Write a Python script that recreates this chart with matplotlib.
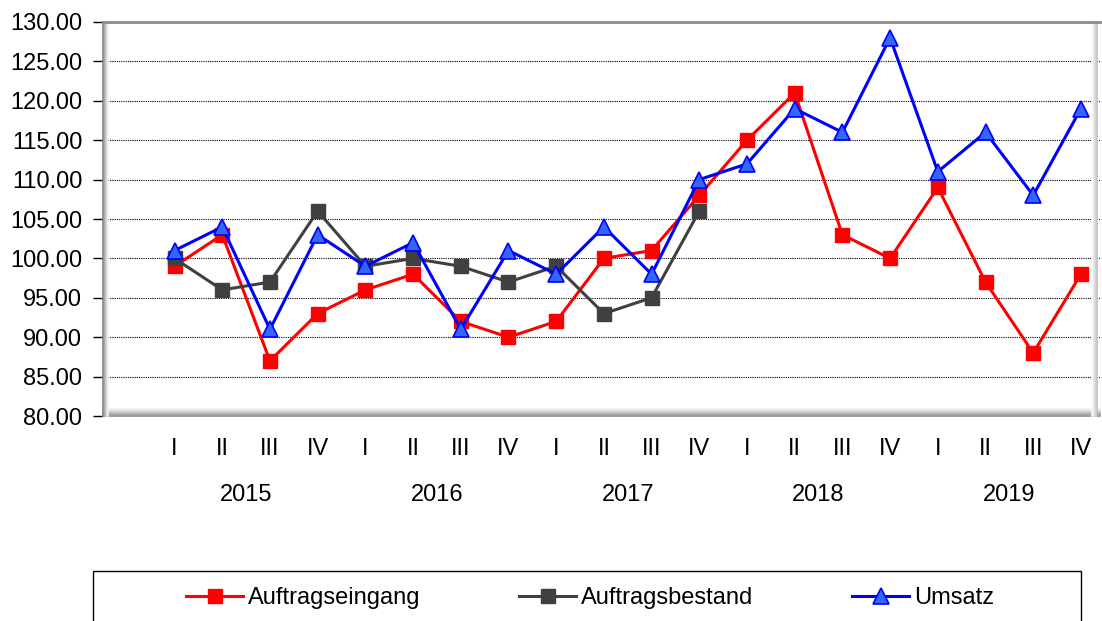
import numpy as np
import matplotlib.pyplot as plt
from matplotlib.patches import Rectangle

plt.rcParams['font.family'] = ['Liberation Sans', 'DejaVu Sans']

quarters = ['I', 'II', 'III', 'IV'] * 5
years = ['2015', '2016', '2017', '2018', '2019']

eingang = [99, 103, 87, 93, 96, 98, 92, 90, 92, 100, 101, 108,
           115, 121, 103, 100, 109, 97, 88, 98]
bestand = [100, 96, 97, 106, 99, 100, 99, 97, 99, 93, 95, 106]
umsatz = [101, 104, 91, 103, 99, 102, 91, 101, 98, 104, 98, 110,
          112, 119, 116, 128, 111, 116, 108, 119]

fig = plt.figure(figsize=(11.02, 6.21), dpi=100)
ax = fig.add_axes([103/1102, 1-416/621, (1100-103)/1102, (416-22)/621])

x = np.arange(len(eingang))
ax.plot(x, eingang, color='#ff0000', lw=2.2, marker='s', ms=10.5,
        mfc='#ff0000', mec='#ff0000', label='Auftragseingang', zorder=3)
ax.plot(np.arange(len(bestand)), bestand, color='#404040', lw=2.2, marker='s', ms=10.5,
        mfc='#404040', mec='#404040', label='Auftragsbestand', zorder=3)
ax.plot(x, umsatz, color='#0000ff', lw=2.2, marker='^', ms=11,
        mfc='#3366ff', mec='#0000ff', mew=1.2, label='Umsatz', zorder=4)

ax.set_ylim(80, 130)
ax.set_xlim(-1.5, 19.4)
ax.set_yticks(np.arange(80, 131, 5))
ax.set_yticklabels(['%.2f' % v for v in np.arange(80, 131, 5)], fontsize=17)
ax.yaxis.grid(True, linestyle=(0, (1, 1)), color='black', lw=0.8)
ax.set_axisbelow(True)
ax.tick_params(axis='y', length=7, width=1, pad=8)

ax.set_xticks(x)
ax.set_xticklabels(quarters, fontsize=17)
ax.tick_params(axis='x', length=0, pad=16)

for i, yr in enumerate(years):
    ax.text(i*4 + 1.5, -0.2, yr, fontsize=17, ha='center', va='center',
            transform=ax.get_xaxis_transform())

for s in ax.spines.values():
    s.set_visible(False)

# 3D-like wall shading
for k in range(8):
    g = 0.55 + k*0.055
    ax.plot([0, 1], [k*0.0025, k*0.0025], transform=ax.transAxes,
            color=str(g), lw=1.2, clip_on=False, zorder=1)
for k in range(6):
    g = 0.5 + k*0.09
    ax.plot([k*0.0011, k*0.0011], [0, 1], transform=ax.transAxes,
            color=str(g), lw=1.2, clip_on=False, zorder=1)
    ax.plot([0.997 - k*0.0011]*2, [0, 1], transform=ax.transAxes,
            color=str(0.75 + k*0.045), lw=1.2, clip_on=False, zorder=1)
ax.plot([0, 1], [1, 1], transform=ax.transAxes, color='0.55', lw=2,
        clip_on=False, zorder=1)

fig.patches.append(Rectangle((93/1102, -0.01), 988/1102, (621-571)/621 + 0.01,
                             transform=fig.transFigure, fill=False,
                             edgecolor='black', lw=1))
fig.legend(loc='center', bbox_to_anchor=(590/1102, 1-598/621), ncol=3,
           frameon=False, fontsize=17, handlelength=2.4, handletextpad=0.2,
           columnspacing=4.2)

fig.savefig('out.png', dpi=100)
